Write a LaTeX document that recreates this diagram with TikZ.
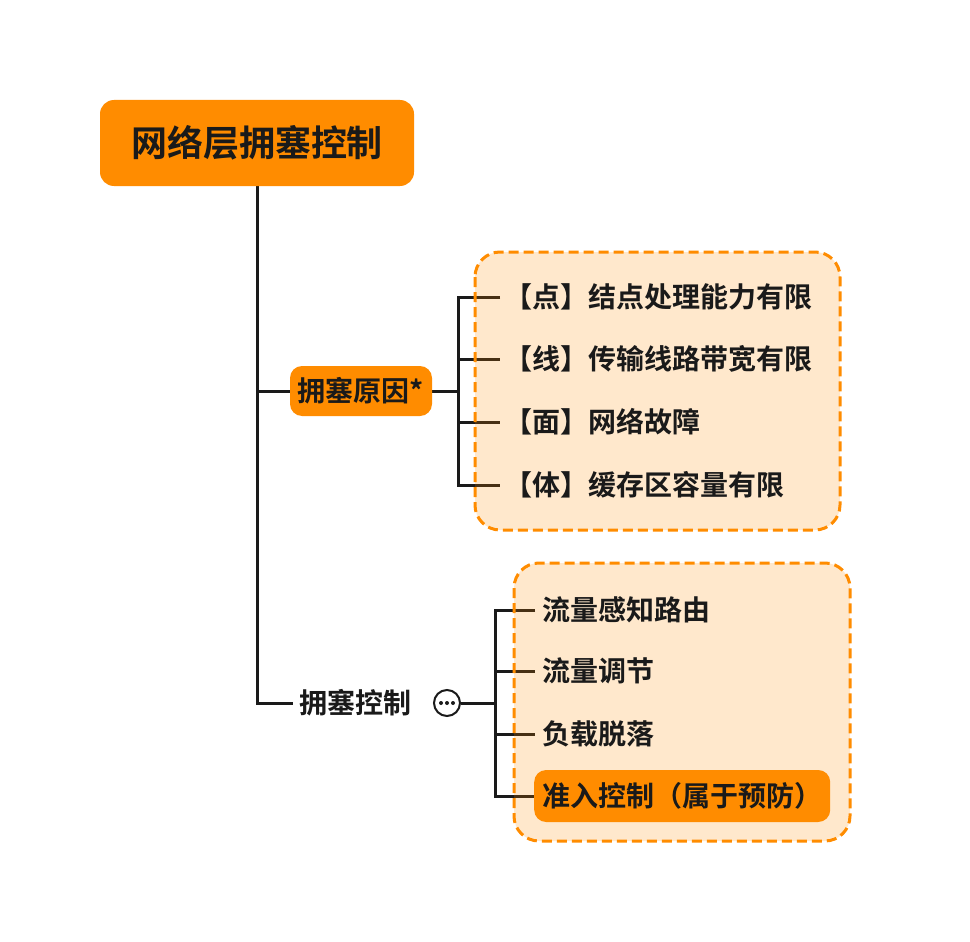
\documentclass[tikz,border=0pt]{standalone}
\usepackage{fontspec}
\setmainfont{Noto Sans CJK SC}[BoldFont={Noto Sans CJK SC Bold}]
\definecolor{mindorange}{HTML}{FF8C00}
\definecolor{ink}{HTML}{1A1A1A}
\pgfdeclarelayer{lines}
\pgfdeclarelayer{boxes}
\pgfsetlayers{lines,boxes,main}
\tikzset{
  rootbox/.style={fill=mindorange, rounded corners=14pt, minimum width=314pt, minimum height=86pt, inner sep=0pt, text=ink, font=\fontsize{36}{40}\selectfont\bfseries},
  subbox/.style={fill=mindorange, rounded corners=12pt, minimum width=142pt, minimum height=50pt, inner sep=0pt, text=ink, font=\fontsize{28}{32}\selectfont\bfseries},
  item/.style={anchor=west, inner ysep=0pt, text=ink, font=\fontsize{28}{32}\selectfont\bfseries},
  hilite/.style={item, fill=mindorange, rounded corners=12pt, minimum height=52pt, inner xsep=8pt},
  tree/.style={draw=ink, line width=3pt},
  groupbox/.style={draw=mindorange, line width=3pt, dash pattern=on 10pt off 5pt, fill=mindorange, fill opacity=0.2, draw opacity=1, rounded corners=25pt},
}
\begin{document}
\begin{tikzpicture}[x=1pt,y=-1pt]
\useasboundingbox (0,0) rectangle (970,942);
\begin{pgfonlayer}{lines}
\fill[white] (0,0) rectangle (970,942);
\end{pgfonlayer}

\node[rootbox] (root) at (257,143) {网络层拥塞控制};
\node[subbox] (cause) at (361,391) {拥塞原因*};
\node[item, inner xsep=6pt] (ctrl) at (293,703) {拥塞控制};
\node[circle, draw=ink, line width=2pt, minimum size=26pt, inner sep=0pt] (more) at (447,703) {};
\foreach \dx in {-6,0,6} \fill[ink] ([xshift=\dx pt]more.center) circle (2pt);

\node[item, inner xsep=4pt] (c1) at (500,297) {【点】结点处理能力有限};
\node[item, inner xsep=4pt] (c2) at (500,359) {【线】传输线路带宽有限};
\node[item, inner xsep=4pt] (c3) at (500,422) {【面】网络故障};
\node[item, inner xsep=4pt] (c4) at (500,485) {【体】缓存区容量有限};

\node[item, inner xsep=7pt] (m1) at (535,610) {流量感知路由};
\node[item, inner xsep=7pt] (m2) at (535,671) {流量调节};
\node[item, inner xsep=7pt] (m3) at (535,734) {负载脱落};
\node[hilite] (m4) at (534,796) {准入控制（属于预防）};

\coordinate (b1) at (458,391);
\coordinate (b2) at (495,703);

\begin{pgfonlayer}{lines}
\draw[tree] (root.south) |- (cause.west);
\draw[tree] (root.south) |- (ctrl.west);
\draw[tree] (cause.east) -- (b1);
\draw[tree] (c1.west) -| (b1) |- (c4.west);
\draw[tree] (b1 |- c2.west) -- (c2.west);
\draw[tree] (b1 |- c3.west) -- (c3.west);
\draw[tree] (more.east) -- (b2);
\draw[tree] (m1.west) -| (b2) |- (m4.west);
\draw[tree] (b2 |- m2.west) -- (m2.west);
\draw[tree] (b2 |- m3.west) -- (m3.west);
\end{pgfonlayer}

\begin{pgfonlayer}{boxes}
\draw[groupbox] (475,252) rectangle (840,530);
\draw[groupbox] (514,563) rectangle (850,841);
\end{pgfonlayer}
\end{tikzpicture}
\end{document}
